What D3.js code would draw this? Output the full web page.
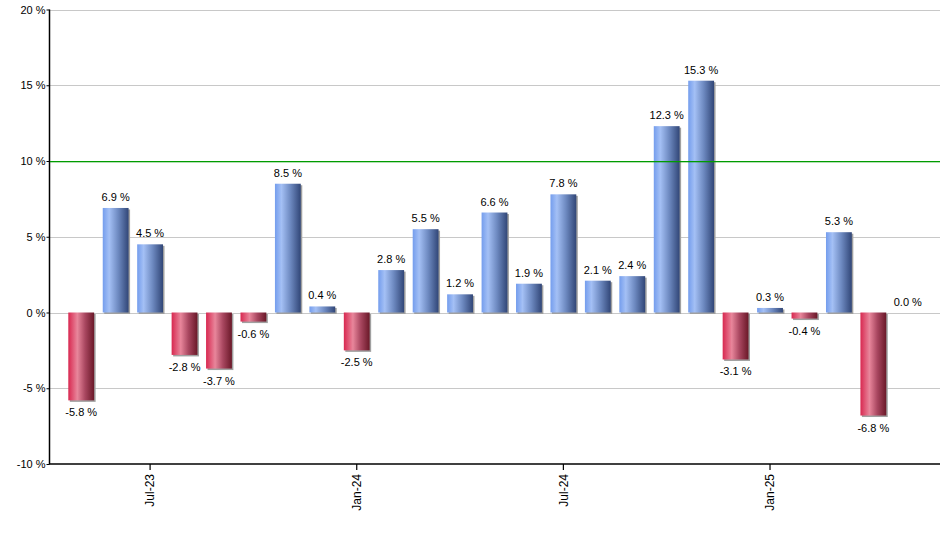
<!DOCTYPE html>
<html>
<head>
<meta charset="utf-8">
<script src="https://cdn.jsdelivr.net/npm/d3@7"></script>
<style>
  body { margin: 0; background: #fff; }
  svg { display: block; font-family: "Liberation Sans", Arial, sans-serif; }
</style>
</head>
<body>
<div id="chart"></div>
<script>
// monthly returns, May-23 .. May-25
const months = ["May-23","Jun-23","Jul-23","Aug-23","Sep-23","Oct-23","Nov-23","Dec-23",
  "Jan-24","Feb-24","Mar-24","Apr-24","May-24","Jun-24","Jul-24","Aug-24","Sep-24","Oct-24",
  "Nov-24","Dec-24","Jan-25","Feb-25","Mar-25","Apr-25","May-25"];
const returns = [-5.8, 6.9, 4.5, -2.8, -3.7, -0.6, 8.5, 0.4, -2.5, 2.8, 5.5, 1.2, 6.6,
  1.9, 7.8, 2.1, 2.4, 12.3, 15.3, -3.1, 0.3, -0.4, 5.3, -6.8, 0.0];
const tickMonths = ["Jul-23", "Jan-24", "Jul-24", "Jan-25"];
const yTicks = [-10, -5, 0, 5, 10, 15, 20];
const targetLine = 10;

const W = 940, H = 550;
const plot = { left: 50, right: 940, top: 9.5, bottom: 464 };

const svg = d3.select("#chart").append("svg")
  .attr("width", W).attr("height", H);

const defs = svg.append("defs");
const blue = defs.append("linearGradient").attr("id", "gBlue");
[["0%", "#749ded"], ["25%", "#a4c0f5"], ["60%", "#6d89c0"], ["100%", "#314677"]].forEach(s =>
  blue.append("stop").attr("offset", s[0]).attr("stop-color", s[1]));
const red = defs.append("linearGradient").attr("id", "gRed");
[["0%", "#d82850"], ["35%", "#e8869b"], ["65%", "#a94760"], ["100%", "#6a1828"]].forEach(s =>
  red.append("stop").attr("offset", s[0]).attr("stop-color", s[1]));

const x = d3.scaleBand()
  .domain(months)
  .range([64, 925])
  .paddingInner(0.25)
  .paddingOuter(0.125);

const y = d3.scaleLinear()
  .domain([-10, 20])
  .range([plot.bottom, plot.top]);

// grid
svg.append("g").selectAll("line")
  .data(yTicks.filter(t => t !== -10 && t !== targetLine))
  .join("line")
  .attr("x1", plot.left).attr("x2", plot.right)
  .attr("y1", d => Math.round(y(d)) + 0.5).attr("y2", d => Math.round(y(d)) + 0.5)
  .attr("stroke", "#c8c8c8");

// y axis
const yAxis = svg.append("g")
  .attr("transform", `translate(${plot.left - 0.5},0)`)
  .call(d3.axisLeft(y).tickValues(yTicks).tickSize(3).tickFormat(d => d + " %"));
yAxis.select(".domain").attr("stroke", "#000").attr("stroke-width", 1.5)
  .attr("d", `M0,${plot.top}V${plot.bottom}`);
yAxis.selectAll(".tick line").attr("stroke", "#000");
yAxis.selectAll(".tick text").attr("font-size", 11).attr("fill", "#000")
  .attr("font-family", "Liberation Sans, Arial, sans-serif").attr("x", -4);

// bars
const barG = svg.append("g");
const bw = x.bandwidth();
const bars = barG.selectAll("g.bar")
  .data(months.map((m, i) => ({ m, v: returns[i] })))
  .join("g").attr("class", "bar");

bars.filter(d => d.v !== 0).append("rect")
  .attr("x", d => x(d.m) + 1.5)
  .attr("y", d => Math.min(y(d.v), y(0)) + 1.5)
  .attr("width", bw)
  .attr("height", d => Math.abs(y(d.v) - y(0)))
  .attr("fill", "#a0a0a0");

bars.filter(d => d.v !== 0).append("rect")
  .attr("x", d => x(d.m))
  .attr("y", d => Math.min(y(d.v), y(0)))
  .attr("width", bw)
  .attr("height", d => Math.abs(y(d.v) - y(0)))
  .attr("fill", d => d.v > 0 ? "url(#gBlue)" : "url(#gRed)");

// value labels
bars.append("text")
  .attr("x", d => x(d.m) + bw / 2)
  .attr("y", d => d.v >= 0 ? y(d.v) - 7 : y(d.v) + 16)
  .attr("text-anchor", "middle")
  .attr("font-size", 11)
  .attr("fill", "#000")
  .text(d => d.v.toFixed(1) + " %");

// target line at 10%
svg.append("rect")
  .attr("class", "target")
  .attr("x", plot.left)
  .attr("y", Math.round(y(targetLine)))
  .attr("width", plot.right - plot.left)
  .attr("height", 1.3)
  .style("fill", "rgb(0,155,0)");

// x axis
const xAxis = svg.append("g")
  .attr("transform", `translate(0,${plot.bottom})`)
  .call(d3.axisBottom(x).tickValues(tickMonths).tickSize(6).tickSizeOuter(0));
xAxis.select(".domain").attr("stroke", "#000").attr("stroke-width", 1.5)
  .attr("d", `M${plot.left - 1},0H${plot.right}`);
xAxis.selectAll(".tick line").attr("stroke", "#000").attr("stroke-width", 1.2);
xAxis.selectAll(".tick text")
  .attr("font-size", 12).attr("fill", "#000")
  .attr("font-family", "Liberation Sans, Arial, sans-serif")
  .attr("transform", "rotate(-90)")
  .attr("text-anchor", "end")
  .attr("x", -10).attr("y", 0).attr("dy", "0.35em");
</script>
</body>
</html>
